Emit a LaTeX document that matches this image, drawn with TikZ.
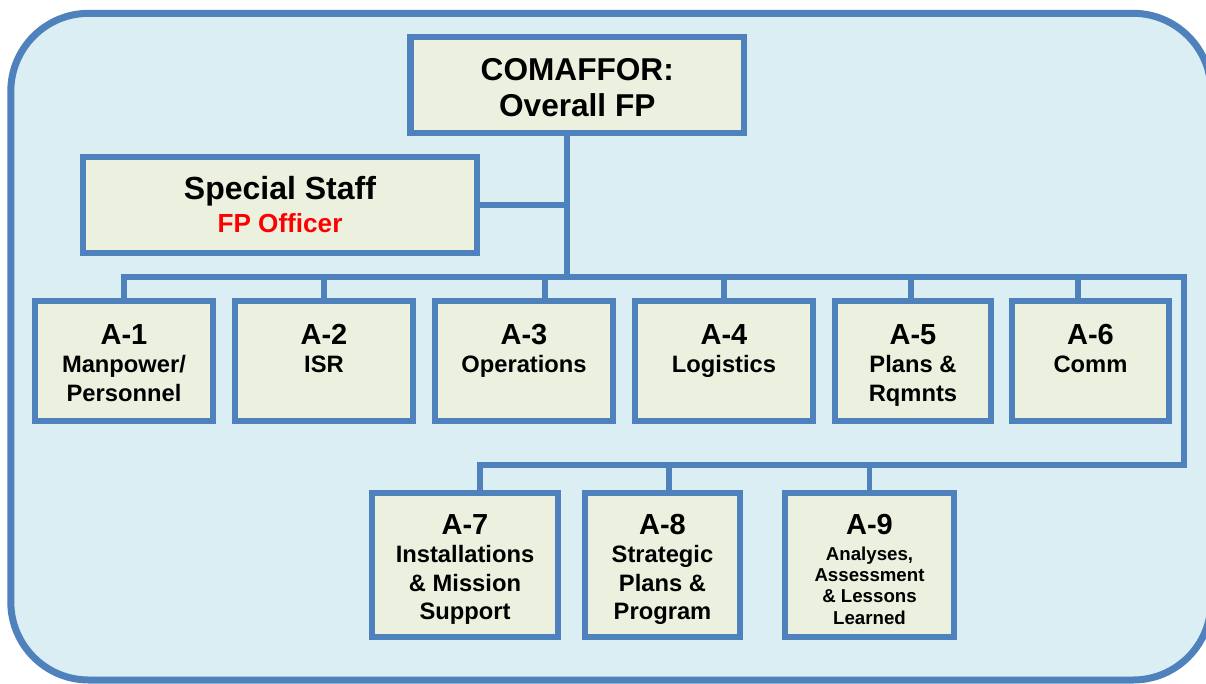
\documentclass[tikz,border=0pt]{standalone}
\usepackage{fontspec}
\setmainfont{Liberation Sans}
\definecolor{bblue}{HTML}{4F81BD}
\definecolor{bgblue}{HTML}{DAEEF3}
\definecolor{bfill}{HTML}{EBF1DE}
\definecolor{fpred}{HTML}{FF0000}
\newcommand{\bxt}[3]{\parbox[c][#2][t]{#1}{\centering\bfseries #3}}
\newcommand{\hdf}{\fontsize{21.75}{21.4}\selectfont}
\newcommand{\sbf}{\fontsize{17.8}{21.4}\selectfont}
\tikzset{
  abox/.style={draw=bblue, fill=bfill, line width=5pt, inner sep=0pt},
  conn/.style={draw=bblue, line width=4.3pt},
  outerframe/.style={draw=bblue, fill=bgblue, line width=5.25pt, rounded corners=58.5pt}
}
\begin{document}
\begin{tikzpicture}[x=0.75pt, y=-0.75pt]
\useasboundingbox (0,0) rectangle (1206,683);
\clip (0,0) rectangle (1206,683);
\fill[white] (0,0) rectangle (1206,683);
\draw[outerframe] (10.8,13.3) rectangle (1211,680);

% top boxes
\node[abox] (com) at (577.25,85) {\bxt{250.1pt}{72pt}{\fontsize{23.7}{27.5}\selectfont\rule{0pt}{32.25pt}COMAFFOR:\\Overall FP}};
\node[abox] (ss) at (280,205) {\bxt{295.5pt}{72pt}{\fontsize{24}{25}\selectfont\rule{0pt}{31.7pt}Special Staff\\{\color{fpred}\fontsize{19.6}{25}\selectfont FP Officer}}};

% row 1
\node[abox] (a1) at (124,361) {\bxt{133.5pt}{90pt}{\hdf\rule{0pt}{32.25pt}A-1\\\sbf Manpower/\\Personnel}};
\node[abox] (a2) at (324,361) {\bxt{133.5pt}{90pt}{\hdf\rule{0pt}{32.25pt}A-2\\\sbf ISR}};
\node[abox] (a3) at (524,361) {\bxt{133.5pt}{90pt}{\hdf\rule{0pt}{32.25pt}A-3\\\sbf Operations}};
\node[abox] (a4) at (724,361) {\bxt{133.5pt}{90pt}{\hdf\rule{0pt}{32.25pt}A-4\\\sbf Logistics}};
\node[abox] (a5) at (913,361) {\bxt{117pt}{90pt}{\hdf\rule{0pt}{32.25pt}A-5\\\sbf Plans \&\\Rqmnts}};
\node[abox] (a6) at (1090.5,361) {\bxt{117.75pt}{90pt}{\hdf\rule{0pt}{32.25pt}A-6\\\sbf Comm}};

% row 2
\node[abox] (a7) at (465,565) {\bxt{139.5pt}{108pt}{\hdf\rule{0pt}{30.75pt}A-7\\\sbf Installations\\\& Mission\\Support}};
\node[abox] (a8) at (662.5,565) {\bxt{116.25pt}{108pt}{\hdf\rule{0pt}{30.75pt}A-8\\\sbf Strategic\\Plans \&\\Program}};
\node[abox] (a9) at (869.5,565) {\bxt{126.75pt}{108pt}{\hdf\rule{0pt}{30.75pt}A-9\\[3.5pt]\fontsize{14}{16}\selectfont Analyses,\\Assessment\\\& Lessons\\Learned}};

% junction coordinates
\coordinate (t1) at (567,277);
\coordinate (c1) at (1184,277);
\coordinate (c2) at (1184,465);
\coordinate (d3) at (545,277);
\coordinate (d5) at (911,277);
\coordinate (d6) at (1078,277);
\coordinate (d7) at (480,465);
\coordinate (d8) at (669,465);

% connectors
\draw[conn] (com.south -| t1) -- (t1);
\draw[conn] (ss.east) -- (ss.east -| t1);
\draw[conn] (a1.north) |- (c1) -- (c2) -- (d7) -- (d7 |- a7.north);
\draw[conn] (a2.north) -- (a2.north |- c1);
\draw[conn] (d3) -- (d3 |- a3.north);
\draw[conn] (a4.north) -- (a4.north |- c1);
\draw[conn] (d5) -- (d5 |- a5.north);
\draw[conn] (d6) -- (d6 |- a6.north);
\draw[conn] (d8) -- (d8 |- a8.north);
\draw[conn] (a9.north) -- (a9.north |- c2);
\end{tikzpicture}
\end{document}
